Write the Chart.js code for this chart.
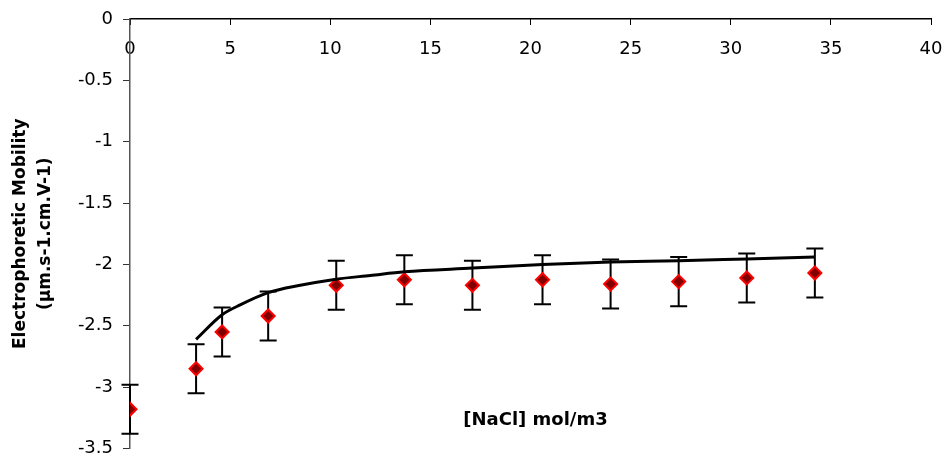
<!DOCTYPE html>
<html>
<head>
<meta charset="utf-8">
<script src="https://cdn.jsdelivr.net/npm/chart.js@4/dist/chart.umd.min.js"></script>
<style>
  html, body { margin: 0; padding: 0; background: #fff; }
  #wrap { width: 945px; height: 457px; }
</style>
</head>
<body>
<div id="wrap"><canvas id="mobility"></canvas></div>
<script>
// measured points: [NaCl] (mol/m3) vs electrophoretic mobility
const nacl = [0, 3.3, 4.6, 6.9, 10.3, 13.7, 17.1, 20.6, 24.0, 27.4, 30.8, 34.2];
const mobility = [-3.18, -2.85, -2.55, -2.42, -2.17, -2.125, -2.17, -2.125, -2.16, -2.14, -2.11, -2.07];
const mobilityErr = [0.2, 0.2, 0.2, 0.2, 0.2, 0.2, 0.2, 0.2, 0.2, 0.2, 0.2, 0.2];

// fitted curve
const fitX = [3.3, 4.6, 5.5, 6.9, 8.5, 10.3, 12.0, 13.7, 17.1, 20.6, 24.0, 27.4, 30.8, 34.2];
const fitY = [-2.61, -2.41, -2.33, -2.23, -2.17, -2.12, -2.09, -2.06, -2.03, -2.0, -1.98, -1.97, -1.955, -1.94];

const xTicks = [0, 5, 10, 15, 20, 25, 30, 35, 40];
const yTicks = [0, -0.5, -1, -1.5, -2, -2.5, -3, -3.5];

const FONT = 'DejaVu Sans, sans-serif';

const errorBars = {
  id: 'errorBars',
  beforeDatasetsDraw(chart) {
    const { ctx, scales: { x, y } } = chart;
    ctx.save();
    ctx.strokeStyle = '#000';
    ctx.lineWidth = 2;
    nacl.forEach((v, i) => {
      const px = x.getPixelForValue(v);
      const top = y.getPixelForValue(mobility[i] + mobilityErr[i]);
      const bot = y.getPixelForValue(mobility[i] - mobilityErr[i]);
      ctx.beginPath();
      ctx.moveTo(px, top); ctx.lineTo(px, bot);
      ctx.moveTo(px - 8.5, top); ctx.lineTo(px + 8.5, top);
      ctx.moveTo(px - 8.5, bot); ctx.lineTo(px + 8.5, bot);
      ctx.stroke();
    });
    ctx.restore();
  }
};

const xTitle = {
  id: 'xTitle',
  afterDraw(chart) {
    const { ctx, chartArea } = chart;
    ctx.save();
    ctx.font = 'bold 18px ' + FONT;
    ctx.fillStyle = '#000';
    ctx.textAlign = 'center';
    ctx.textBaseline = 'middle';
    ctx.fillText('[NaCl] mol/m3', (chartArea.left + chartArea.right) / 2 + 5, chartArea.bottom - 28);
    ctx.restore();
  }
};

new Chart(document.getElementById('mobility'), {
  type: 'scatter',
  data: {
    datasets: [
      {
        type: 'line',
        label: 'fit',
        data: fitX.map((v, i) => ({ x: v, y: fitY[i] })),
        borderColor: '#000',
        borderWidth: 3,
        pointRadius: 0,
        cubicInterpolationMode: 'monotone',
        fill: false
      },
      {
        label: 'measured',
        data: nacl.map((v, i) => ({ x: v, y: mobility[i] })),
        pointStyle: 'rectRot',
        pointRadius: 6.5,
        pointBackgroundColor: '#800000',
        pointBorderColor: '#ff0000',
        pointBorderWidth: 2
      }
    ]
  },
  options: {
    responsive: true,
    maintainAspectRatio: false,
    animation: false,
    layout: { padding: { top: 19, left: 0, right: 14, bottom: 8 } },
    plugins: {
      legend: { display: false },
      tooltip: { enabled: false }
    },
    scales: {
      x: {
        type: 'linear',
        position: 'top',
        min: 0,
        max: 40,
        afterBuildTicks: s => { s.ticks = xTicks.map(v => ({ value: v })); },
        afterFit: s => { s.height = 0; s.paddingRight = 0; s.paddingLeft = 0; },
        ticks: {
          mirror: true,
          padding: 20,
          color: '#000',
          font: { family: FONT, size: 18 },
          callback: v => String(v)
        },
        grid: { drawOnChartArea: false, tickLength: -6, tickColor: '#000' },
        border: { color: '#000', width: 1.5 }
      },
      y: {
        type: 'linear',
        min: -3.5,
        max: 0,
        afterBuildTicks: s => { s.ticks = yTicks.map(v => ({ value: v })); },
        afterFit: s => { s.width = 130; s.paddingTop = 0; s.paddingBottom = 0; },
        ticks: {
          padding: 10,
          color: '#000',
          font: { family: FONT, size: 18 },
          callback: v => String(v)
        },
        grid: { drawOnChartArea: false, tickLength: 7, tickColor: '#333' },
        border: { color: '#555', width: 1.5 },
        title: {
          display: true,
          text: ['Electrophoretic Mobility', '(\u00b5m.s-1.cm.V-1)'],
          color: '#000',
          font: { family: FONT, size: 17, weight: 'bold', lineHeight: 1.47 },
          padding: { top: 8, bottom: 0 }
        }
      }
    }
  },
  plugins: [errorBars, xTitle]
});
</script>
</body>
</html>
